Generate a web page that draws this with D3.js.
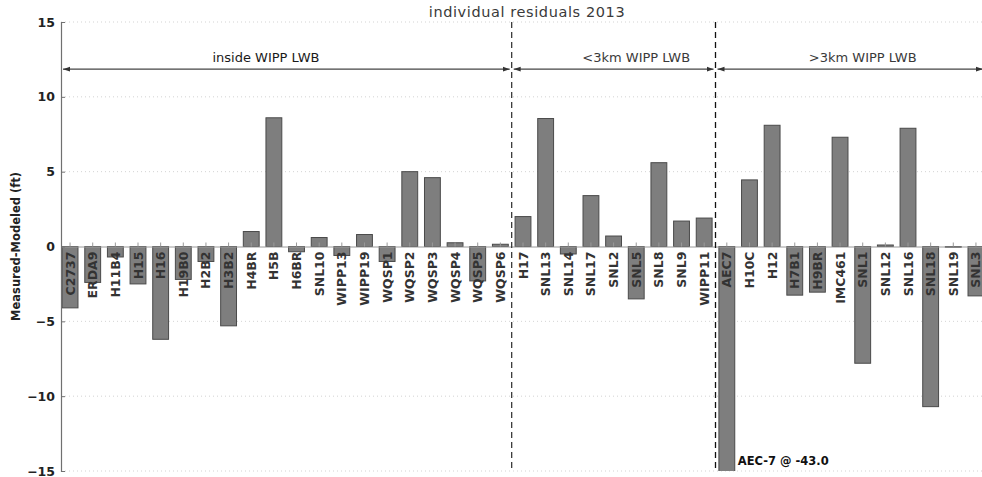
<!DOCTYPE html>
<html>
<head>
<meta charset="utf-8">
<script src="https://cdn.jsdelivr.net/npm/d3@7"></script>
<style>
  html, body { margin: 0; padding: 0; background: #fff; }
  svg { display: block; font-family: "DejaVu Sans", sans-serif; }
</style>
</head>
<body>
<svg id="chart" width="982" height="477"></svg>
<script>
// Well names, in plotting order (grouped by distance from the WIPP land withdrawal boundary)
const stations = [
  "C2737", "ERDA9", "H11B4", "H15", "H16", "H19B0", "H2B2", "H3B2", "H4BR", "H5B",
  "H6BR", "SNL10", "WIPP13", "WIPP19", "WQSP1", "WQSP2", "WQSP3", "WQSP4", "WQSP5", "WQSP6",
  "H17", "SNL13", "SNL14", "SNL17", "SNL2", "SNL5", "SNL8", "SNL9", "WIPP11",
  "AEC7", "H10C", "H12", "H7B1", "H9BR", "IMC461", "SNL1", "SNL12", "SNL16", "SNL18", "SNL19", "SNL3"
];

// Measured minus modeled head, ft
const residuals = [
  -4.1, -2.4, -0.7, -2.5, -6.2, -2.2, -1.0, -5.3, 1.0, 8.6,
  -0.35, 0.6, -0.6, 0.8, -1.0, 5.0, 4.6, 0.25, -2.3, 0.15,
  2.0, 8.55, -0.5, 3.4, 0.7, -3.5, 5.6, 1.7, 1.9,
  -43.0, 4.45, 8.1, -3.25, -3.05, 7.3, -7.8, 0.1, 7.9, -10.7, -0.05, -3.3
];

const groupNames = ["inside WIPP LWB", "<3km WIPP LWB", ">3km WIPP LWB"];
const groupSizes = [20, 9, 12];
const yTicks = [-15, -10, -5, 0, 5, 10, 15];
const chartTitle = "individual residuals 2013";
const yLabel = "Measured-Modeled (ft)";

const svg = d3.select("#chart");
const plot = { left: 61, right: 985, top: 22, bottom: 471 };

const x = d3.scaleBand()
  .domain(stations)
  .range([plot.left, plot.right])
  .paddingInner(0.3)
  .paddingOuter(0.05);

const y = d3.scaleLinear().domain([-15, 15]).range([plot.bottom, plot.top]);

// index-based helper for positions between bars
const step = x.step();
const center = i => x(stations[0]) + x.bandwidth() / 2 + i * step;

svg.append("defs").append("clipPath").attr("id", "plotClip")
  .append("rect")
  .attr("x", plot.left).attr("y", plot.top)
  .attr("width", plot.right - plot.left).attr("height", plot.bottom - plot.top);

// faint dotted grid
svg.append("g")
  .selectAll("line")
  .data(yTicks.filter(t => t !== 0))
  .join("line")
  .attr("x1", plot.left).attr("x2", plot.right)
  .attr("y1", d => y(d)).attr("y2", d => y(d))
  .attr("stroke", "#c8c8c8")
  .attr("stroke-width", 0.8)
  .attr("stroke-dasharray", "1,3");

// bars
const data = stations.map((s, i) => ({ name: s, value: residuals[i] }));
svg.append("g").attr("clip-path", "url(#plotClip)")
  .selectAll("rect")
  .data(data)
  .join("rect")
  .attr("x", d => x(d.name))
  .attr("width", x.bandwidth())
  .attr("y", d => y(Math.max(0, d.value)))
  .attr("height", d => Math.abs(y(d.value) - y(0)))
  .attr("fill", "#7e7e7e")
  .attr("stroke", "#4a4a4a")
  .attr("stroke-width", 1);

// station axis sitting on the zero line, ticks pointing up
const xAxis = svg.append("g")
  .attr("transform", `translate(0,${y(0)})`)
  .call(d3.axisBottom(x).tickSize(-4).tickSizeOuter(0));
xAxis.select(".domain").attr("stroke", "#9a9a9a");
xAxis.selectAll(".tick line").attr("stroke", "#9a9a9a");
xAxis.selectAll(".tick text")
  .attr("transform", "rotate(-90)")
  .attr("x", -5)
  .attr("y", 0)
  .attr("dy", "0.36em")
  .style("text-anchor", "end")
  .style("font-family", "DejaVu Sans, sans-serif")
  .style("font-size", "12.5px")
  .style("font-weight", "bold")
  .attr("fill", "#333");

// value axis
const yAxis = svg.append("g")
  .attr("transform", `translate(${plot.left},0)`)
  .call(d3.axisLeft(y).tickValues(yTicks).tickFormat(d3.format("d")).tickSize(-4).tickPadding(6));
yAxis.select(".domain").attr("stroke", "#707070").attr("stroke-width", 1.2);
yAxis.selectAll(".tick line").attr("stroke", "#707070");
yAxis.selectAll(".tick text")
  .style("font-family", "DejaVu Sans, sans-serif")
  .style("font-size", "12.5px")
  .style("font-weight", "bold")
  .attr("fill", "#222");

svg.append("text")
  .attr("transform", `translate(16,${(plot.top + plot.bottom) / 2}) rotate(-90)`)
  .attr("text-anchor", "middle")
  .attr("dy", "0.35em")
  .style("font-size", "11.5px")
  .style("font-weight", "bold")
  .attr("fill", "#222")
  .text(yLabel);

svg.append("text")
  .attr("x", (plot.left + plot.right) / 2 + 4)
  .attr("y", 17)
  .attr("text-anchor", "middle")
  .style("font-size", "14.5px")
  .style("letter-spacing", "0.6px")
  .attr("fill", "#3a3a3a")
  .text(chartTitle);

// group boundaries and extent arrows
const starts = groupSizes.map((n, k) => d3.sum(groupSizes.slice(0, k)));
const edges = [plot.left]
  .concat(starts.slice(1).map(s => center(s - 0.5)))
  .concat([plot.right]);

svg.append("g")
  .selectAll("line")
  .data(edges.slice(1, -1))
  .join("line")
  .attr("x1", d => d).attr("x2", d => d)
  .attr("y1", plot.top).attr("y2", plot.bottom)
  .attr("stroke", (d, i) => i === 0 ? "#3a3a3a" : "#111")
  .attr("stroke-width", 1.3)
  .attr("stroke-dasharray", "6,4");

const defs = svg.select("defs");
defs.append("marker")
  .attr("id", "arrowEnd")
  .attr("viewBox", "0 0 10 10")
  .attr("refX", 10).attr("refY", 5)
  .attr("markerWidth", 7).attr("markerHeight", 7)
  .attr("markerUnits", "userSpaceOnUse")
  .attr("orient", "auto-start-reverse")
  .append("path")
  .attr("d", "M0,1.5 L10,5 L0,8.5 Z")
  .attr("fill", "#333");

const arrowY = y(11.85);
const labelAt = [8.65, 25, 35];
groupNames.forEach((name, k) => {
  const x1 = edges[k] + 2;
  const x2 = edges[k + 1] - 2;
  svg.append("line")
    .attr("x1", x1).attr("x2", x2)
    .attr("y1", arrowY).attr("y2", arrowY)
    .attr("stroke", "#444")
    .attr("stroke-width", 1.2)
    .attr("marker-start", "url(#arrowEnd)")
    .attr("marker-end", "url(#arrowEnd)");
  svg.append("text")
    .attr("x", center(labelAt[k]))
    .attr("y", arrowY - 7)
    .attr("text-anchor", "middle")
    .style("font-size", "13px")
    .attr("fill", k === 0 ? "#1a1a1a" : "#3a3a3a")
    .text(name);
});

// note for the bar that runs off the bottom of the axes
const offIdx = residuals.findIndex(v => v < -15);
if (offIdx >= 0) {
  svg.append("text")
    .attr("x", x(stations[offIdx]) + x.bandwidth() + 3)
    .attr("y", y(-14.3))
    .attr("dy", "0.35em")
    .style("font-size", "11.5px")
    .style("font-weight", "bold")
    .attr("fill", "#111")
    .text(`AEC-7 @ ${residuals[offIdx].toFixed(1)}`);
}
</script>
</body>
</html>
